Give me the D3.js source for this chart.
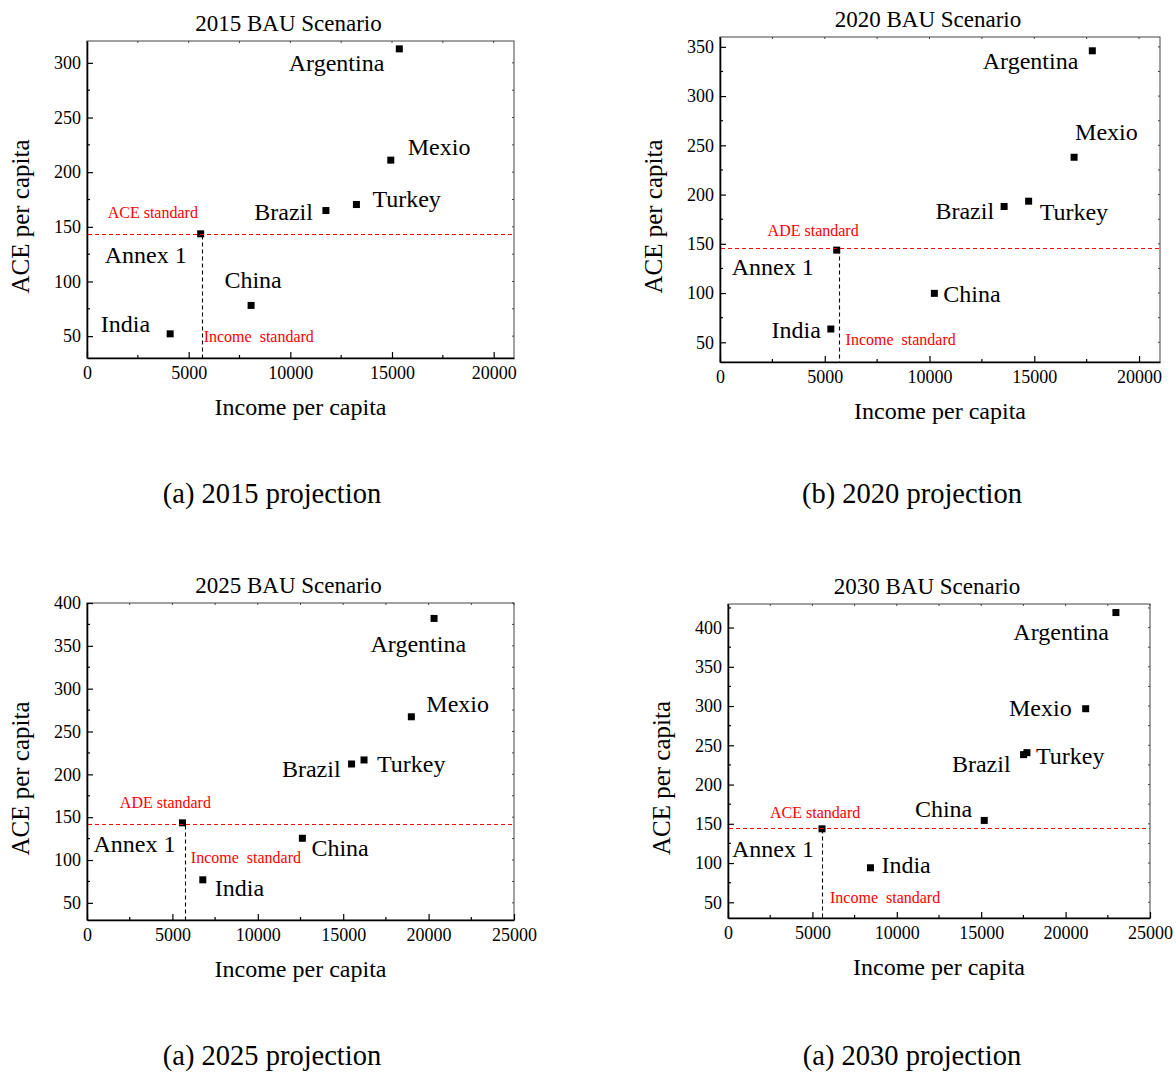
<!DOCTYPE html>
<html>
<head>
<meta charset="utf-8">
<script src="https://cdn.jsdelivr.net/npm/d3@7"></script>
<style>
  body { margin: 0; background: #fff; }
  svg { font-family: "Liberation Serif", "Times New Roman", serif; }
  .pre { white-space: pre; }
</style>
</head>
<body>
<div id="chart"></div>
<script>
// values
var countries = ["Argentina", "Mexio", "Turkey", "Brazil", "Annex 1", "China", "India"];

var income2015 = [15360, 14940, 13250, 11750, 5590, 8070, 4090];
var ace2015    = [312.8, 211.0, 170.4, 164.9, 143.6, 78.1, 52.1];

var income2020 = [17770, 16900, 14730, 13560, 5570, 10230, 5290];
var ace2020    = [346.0, 237.9, 193.3, 187.9, 143.6, 99.7, 63.5];

var income2025 = [20320, 18990, 16220, 15490, 5590, 12610, 6780];
var ace2025    = [382.0, 267.2, 216.8, 212.1, 143.4, 125.4, 76.9];

var income2030 = [22980, 21190, 17710, 17510, 5570, 15180, 8440];
var ace2030    = [419.1, 296.6, 240.6, 238.1, 143.6, 154.3, 94.0];

var aceStandard    = [143.6, 145.6, 142.6, 144.5];
var incomeStandard = [5640, 5660, 5730, 5570];
var standardNames  = ["ACE standard", "ADE standard", "ADE standard", "ACE standard"];

var titles   = ["2015 BAU Scenario", "2020 BAU Scenario", "2025 BAU Scenario", "2030 BAU Scenario"];
var captions = ["(a) 2015 projection", "(b) 2020 projection", "(a) 2025 projection", "(a) 2030 projection"];
var xMax = [21000, 21000, 25000, 25000];
var yMax = [320, 360, 400, 430];
var yMin = 30;

// layout of each panel (pixels)
var panels = [
    {inc: income2015, ace: ace2015, box: {l: 87, r: 514, t: 41, b: 358}, capX: 272, capY: 503,
     std: {dx: -94, dy: -16}, incLab: {dx: 2, dy: -16},
     lab: [["end", -15, 22], ["start", 17, -5], ["start", 16, 2], ["end", -13, 9],
           ["end", -14, 29], ["middle", 2, -17], ["end", -20, -2]]},
    {inc: income2020, ace: ace2020, box: {l: 720, r: 1160, t: 37, b: 362}, capX: 912, capY: 503,
     std: {dx: -71, dy: -12}, incLab: {dx: 7, dy: -17},
     lab: [["end", -14, 18], ["start", 1, -17], ["start", 11, 19], ["end", -10, 13],
           ["end", -23, 25], ["start", 9, 9], ["end", -10, 9]]},
    {inc: income2025, ace: ace2025, box: {l: 87, r: 514, t: 603, b: 920}, capX: 272, capY: 1065,
     std: {dx: -65, dy: -16}, incLab: {dx: 6, dy: -57},
     lab: [["end", 32, 34], ["start", 15, -5], ["start", 13, 12], ["end", -11, 13],
           ["end", -7, 29], ["start", 9, 18], ["start", 12, 16]]},
    {inc: income2030, ace: ace2030, box: {l: 728, r: 1150, t: 604, b: 918}, capX: 912, capY: 1065,
     std: {dx: -52, dy: -10}, incLab: {dx: 8, dy: -15},
     lab: [["end", -7, 27], ["end", -14, 7], ["start", 9, 11], ["end", -13, 17],
           ["end", -8, 28], ["end", -12, -3], ["start", 11, 5]]}
];

var svg = d3.select("#chart")
    .append("svg")
    .attr("width", 1176)
    .attr("height", 1074);

// put a 1px line on a pixel centre so it stays crisp
function crisp(v) { return Math.round(v) + 0.5; }

panels.forEach(function (p, i) {
    var b = p.box;
    var w = b.r - b.l, h = b.b - b.t;

    var x = d3.scaleLinear().domain([0, xMax[i]]).range([0, w]);
    var y = d3.scaleLinear().domain([yMin, yMax[i]]).range([h, 0]);

    var g = svg.append("g")
        .attr("transform", "translate(" + b.l + "," + b.t + ")");

    var xMajor = d3.range(0, xMax[i] + 1, 5000);
    var xMinor = d3.range(2500, xMax[i], 5000);
    var yMajor = d3.range(50, yMax[i] + 1, 50);
    var yMinor = d3.range(50, yMax[i], 25).filter(function (v) { return v % 50 != 0; });

    // frame (top / right)
    g.append("rect")
        .attr("width", w).attr("height", h)
        .attr("fill", "none")
        .attr("stroke", "#444")
        .attr("stroke-width", 1);

    // tiny mirror ticks on top and right
    g.selectAll(".tt").data(xMajor.concat(xMinor)).enter().append("line")
        .attr("x1", function (d) { return x(d); }).attr("x2", function (d) { return x(d); })
        .attr("y1", 0).attr("y2", 2).attr("stroke", "#444");
    g.selectAll(".rt").data(yMajor.concat(yMinor)).enter().append("line")
        .attr("x1", w).attr("x2", w - 2)
        .attr("y1", function (d) { return y(d); }).attr("y2", function (d) { return y(d); })
        .attr("stroke", "#444");

    // minor ticks bottom / left
    g.selectAll(".mx").data(xMinor).enter().append("line")
        .attr("x1", function (d) { return x(d); }).attr("x2", function (d) { return x(d); })
        .attr("y1", h).attr("y2", h - 3).attr("stroke", "#000").attr("stroke-width", 1.2);
    g.selectAll(".my").data(yMinor).enter().append("line")
        .attr("x1", 0).attr("x2", 3)
        .attr("y1", function (d) { return y(d); }).attr("y2", function (d) { return y(d); })
        .attr("stroke", "#000").attr("stroke-width", 1.2);

    // X axis
    var xa = g.append("g")
        .attr("transform", "translate(0," + h + ")")
        .call(d3.axisBottom(x).tickValues(xMajor).tickFormat(d3.format("d"))
            .tickSizeInner(-6).tickSizeOuter(0).tickPadding(8));
    // Y axis
    var ya = g.append("g")
        .call(d3.axisLeft(y).tickValues(yMajor).tickFormat(d3.format("d"))
            .tickSizeInner(-6).tickSizeOuter(0).tickPadding(6));

    [xa, ya].forEach(function (a) {
        a.select(".domain").attr("stroke", "#000").attr("stroke-width", 1.6);
        a.selectAll(".tick line").attr("stroke", "#000").attr("stroke-width", 1.2);
        a.selectAll("text")
            .style("font-family", "Liberation Serif")
            .style("font-size", "18px")
            .attr("fill", "#000");
    });

    // standard lines
    var sy = y(aceStandard[i]);
    var sx = x(incomeStandard[i]);

    // points
    var pts = countries.map(function (c, k) {
        return {name: c, inc: p.inc[k], ace: p.ace[k], lab: p.lab[k]};
    });

    g.selectAll(".pt").data(pts).enter().append("rect")
        .attr("x", function (d) { return x(d.inc) - 3.5; })
        .attr("y", function (d) { return y(d.ace) - 3.5; })
        .attr("width", 7).attr("height", 7)
        .attr("fill", "#000");

    g.append("line")
        .attr("x1", 1).attr("x2", w)
        .attr("y1", crisp(sy)).attr("y2", crisp(sy))
        .attr("stroke", "#ff0000").attr("stroke-width", 1.1)
        .attr("stroke-dasharray", "4,3");
    g.append("line")
        .attr("x1", crisp(sx)).attr("x2", crisp(sx))
        .attr("y1", crisp(sy) + 1).attr("y2", h)
        .attr("stroke", "#000").attr("stroke-width", 1.1)
        .attr("stroke-dasharray", "4,3");

    g.append("text")
        .attr("x", sx + p.std.dx).attr("y", sy + p.std.dy)
        .attr("fill", "#ff0000")
        .style("font-size", "16px")
        .text(standardNames[i]);
    g.append("text")
        .attr("class", "pre")
        .attr("x", sx + p.incLab.dx).attr("y", h + p.incLab.dy)
        .attr("fill", "#ff0000")
        .style("font-size", "16px")
        .text("Income  standard");

    g.selectAll(".lbl").data(pts).enter().append("text")
        .attr("x", function (d) { return x(d.inc) + d.lab[1]; })
        .attr("y", function (d) { return y(d.ace) + d.lab[2]; })
        .attr("text-anchor", function (d) { return d.lab[0]; })
        .style("font-size", "24px")
        .attr("fill", "#000")
        .text(function (d) { return d.name; });

    // titles
    g.append("text")
        .attr("x", w / 2 - 12).attr("y", -10)
        .attr("text-anchor", "middle")
        .style("font-size", "23px")
        .text(titles[i]);

    g.append("text")
        .attr("x", w / 2).attr("y", h + 57)
        .attr("text-anchor", "middle")
        .style("font-size", "24px")
        .text("Income per capita");

    g.append("text")
        .attr("transform", "translate(" + (-58) + "," + (h / 2 + 17) + ") rotate(-90)")
        .attr("text-anchor", "middle")
        .style("font-size", "25px")
        .text("ACE per capita");

    svg.append("text")
        .attr("x", p.capX).attr("y", p.capY)
        .attr("text-anchor", "middle")
        .style("font-size", "28.5px")
        .text(captions[i]);
});
</script>
</body>
</html>
